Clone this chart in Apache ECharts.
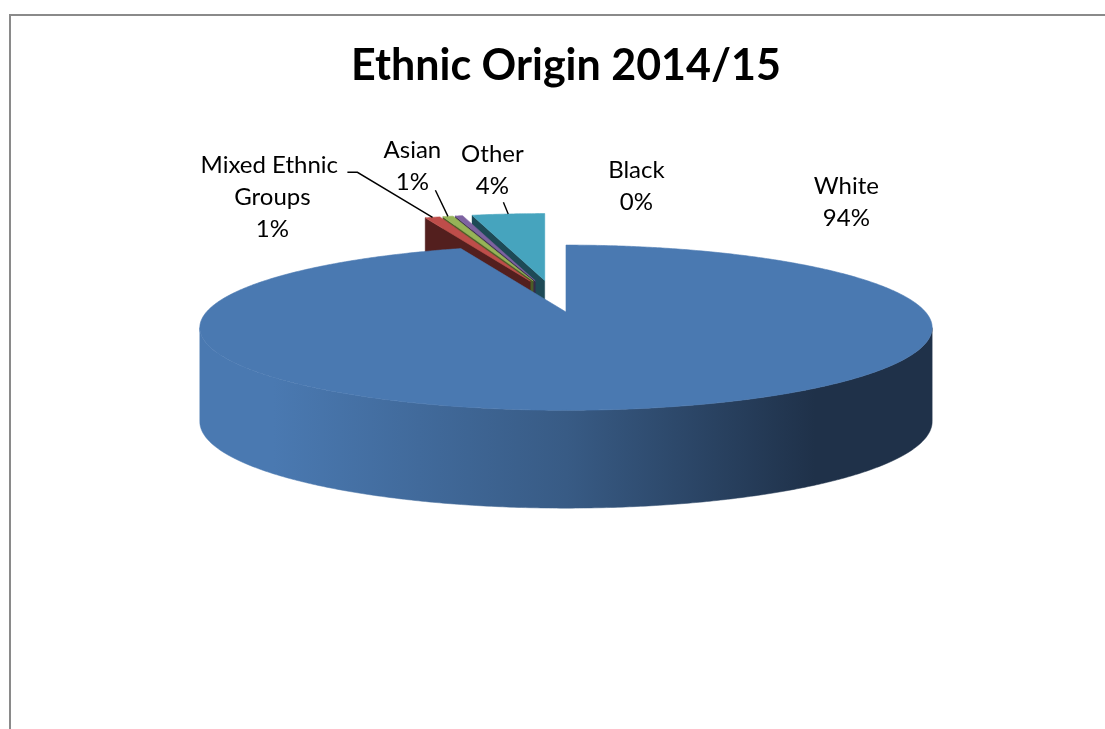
<!DOCTYPE html>
<html>
<head>
<meta charset="utf-8">
<title>Ethnic Origin 2014/15</title>
<script src="https://cdn.jsdelivr.net/npm/echarts/dist/echarts.min.js"></script>
<style>
  html, body { margin: 0; padding: 0; background: #ffffff; }
  #chart { width: 1105px; height: 729px; }
</style>
</head>
<body>
<div id="chart"></div>
<script>
// ---- data -------------------------------------------------------------
const categories = ['White', 'Mixed Ethnic Groups', 'Asian', 'Black', 'Other'];
const shares = [94.4, 0.8, 0.55, 0.4, 3.85];

// ---- styling ----------------------------------------------------------
const topColors  = ['#4A79B1', '#BE4D4A', '#96B457', '#7D62A1', '#46A4BE'];
const faceColors = ['#1F3149', '#531F1E', '#4C5D27', '#382B4A', '#1E4A56'];
const explodeBy  = [0.2, 0.2, 0.2, 0.2, 0.2];
// label block centre, relative to the pie centre
const labelOffset = [[293, -94], [-281, -99], [-141, -130], [83, -110], [-61, -126]];
// leader line start points, relative to the label centre (null = no leader)
const leaderFrom = [null, [[75, -25], [85, -25]], [[23, 24]], null, [[11, 32]]];

// tilted disc with a little perspective
const pie = { cx: 553.4, cy: 296.3, rx: 359.5, ry: 79.6, persp: 0.19, depth: 93, depthPersp: 0.05 };

const total = shares.reduce((s, v) => s + v, 0);
const startDeg = [];
(function () {
  let acc = 0;
  shares.forEach(v => { startDeg.push(acc / total * 360); acc += v; });
})();
const rad = d => d * Math.PI / 180;
const deg = r => r * 180 / Math.PI;

// paint order: slices further back are drawn first
const zBase = (function () {
  const depthOf = shares.map((v, i) => Math.cos(rad(startDeg[i] + v / total * 180)));
  const order = depthOf.map((d, i) => i).sort((p, q) => depthOf[q] - depthOf[p]);
  const z = [];
  order.forEach((idx, rank) => { z[idx] = 10 + rank * 10; });
  return z;
})();

// silhouette of the side wall: where the rim is widest on screen
const wallFrom = deg(Math.acos(-pie.persp));
const wallTo = 360 - wallFrom;

// local point (X, D) on a slice whose centre is shifted by off
function project(off, X, D, level) {
  const s = 1 + pie.persp * D;
  return [
    pie.cx + pie.rx * off[0] + pie.rx * X / s,
    pie.cy - pie.ry * off[1] - pie.ry * D / s + level * pie.depth / (1 + pie.depthPersp * D)
  ];
}
function rim(off, d, level) {
  return project(off, Math.sin(rad(d)), Math.cos(rad(d)), level);
}
function arc(off, a, b, level) {
  const n = Math.max(2, Math.ceil(Math.abs(b - a) / 0.5));
  const pts = [];
  for (let k = 0; k <= n; k++) pts.push(rim(off, a + (b - a) * k / n, level));
  return pts;
}

function renderSlice(params, api) {
  const i = params.dataIndex;
  const v = api.value(0);
  const a = startDeg[i];
  const b = a + v / total * 360;
  const mid = rad((a + b) / 2);
  const off = [explodeBy[i] * Math.sin(mid), explodeBy[i] * Math.cos(mid)];
  const base = zBase[i];
  const kids = [];
  const c0 = project(off, 0, 0, 0);
  const c1 = project(off, 0, 0, 1);

  // curved outer wall (visible front part)
  const wa = Math.max(a, wallFrom), wb = Math.min(b, wallTo);
  if (wb > wa) {
    const topArc = arc(off, wa, wb, 0);
    const botArc = arc(off, wa, wb, 1).reverse();
    const pts = topArc.concat(botArc);
    const xs = pts.map(p => p[0]);
    const x0 = Math.min.apply(null, xs), x1 = Math.max.apply(null, xs);
    const midCol = echarts.color.lerp(0.42, [topColors[i], faceColors[i]]);
    const fill = new echarts.graphic.LinearGradient(x0, 0, x1, 0, [
      { offset: 0, color: topColors[i] },
      { offset: 0.1, color: topColors[i] },
      { offset: 0.5, color: midCol },
      { offset: 0.84, color: faceColors[i] },
      { offset: 1, color: faceColors[i] }
    ], true);
    kids.push({ type: 'polygon', z2: base + 1, shape: { points: pts },
                style: { fill: fill, stroke: fill, lineWidth: 0.5 } });
  }

  // radial cut faces
  const face = d => {
    const o0 = rim(off, d, 0), o1 = rim(off, d, 1);
    return { type: 'polygon', z2: base + 2, shape: { points: [c0, o0, o1, c1] },
             style: { fill: faceColors[i], stroke: faceColors[i], lineWidth: 0.4 } };
  };
  if (Math.sin(rad(a)) < -1e-6) kids.push(face(a));
  if (Math.sin(rad(b)) > 1e-6) kids.push(face(b));

  // top face
  kids.push({
    type: 'polygon', z2: base + 3,
    shape: { points: [c0].concat(arc(off, a, b, 0)) },
    style: { fill: topColors[i], stroke: topColors[i], lineWidth: 0.6 }
  });

  // data label
  const lx = pie.cx + labelOffset[i][0];
  const ly = pie.cy + labelOffset[i][1];
  kids.push({
    type: 'text', z2: 1000,
    style: {
      text: categories[i] + '\n' + Math.round(v / total * 100) + '%',
      x: lx, y: ly,
      align: 'center', verticalAlign: 'middle',
      width: 160, overflow: 'break',
      fontFamily: 'Lato', fontSize: 24, lineHeight: 32,
      fill: '#000000'
    }
  });

  // leader line to the middle of the slice's outer edge
  if (leaderFrom[i]) {
    const pts = leaderFrom[i].map(p => [lx + p[0], ly + p[1]]);
    pts.push(rim(off, (a + b) / 2, 0));
    kids.push({
      type: 'polyline', z2: 999, shape: { points: pts },
      style: { stroke: '#000000', lineWidth: 1.4, fill: null }
    });
  }

  return { type: 'group', children: kids };
}

const chart = echarts.init(document.getElementById('chart'), null, { renderer: 'canvas' });
chart.setOption({
  animation: false,
  backgroundColor: '#ffffff',
  title: {
    text: 'Ethnic Origin 2014/15',
    left: 561,
    textAlign: 'center',
    top: 40,
    textStyle: { fontFamily: 'Lato', fontWeight: 'bold', fontSize: 43, color: '#000000' }
  },
  graphic: [{
    type: 'rect',
    shape: { x: 10, y: 15, width: 1200, height: 800 },
    style: { fill: null, stroke: '#8A8A8A', lineWidth: 2 },
    silent: true
  }],
  series: [{
    type: 'custom',
    coordinateSystem: 'none',
    data: shares,
    renderItem: renderSlice
  }]
});
</script>
</body>
</html>
